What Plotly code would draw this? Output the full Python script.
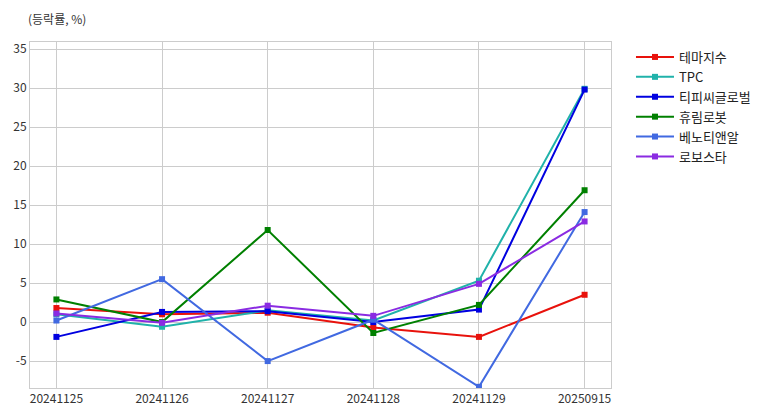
import plotly.graph_objects as go

dates = ["20241125", "20241126", "20241127", "20241128", "20241129", "20250915"]
names = ["테마지수", "TPC", "티피씨글로벌", "휴림로봇", "베노티앤알", "로보스타"]
colors = ["#e8120c", "#20b2aa", "#0000e0", "#008000", "#4169e1", "#8a2be2"]

theme = [1.8, 1.0, 1.2, -0.7, -1.9, 3.5]
tpc = [1.0, -0.6, 1.5, 0.2, 5.3, 29.9]
tpc_global = [-1.9, 1.3, 1.4, 0.0, 1.6, 29.8]
hyurim = [2.9, 0.0, 11.8, -1.4, 2.2, 16.9]
benot = [0.2, 5.5, -5.0, 0.3, -8.3, 14.1]
robostar = [1.1, -0.1, 2.1, 0.8, 4.9, 12.9]

y_tick_values = [-5, 0, 5, 10, 15, 20, 25, 30, 35]
y_tick_labels = ["-5", "0", "5", "10", "15", "20", "25", "30", "35"]

series = [theme, tpc, tpc_global, hyurim, benot, robostar]

fig = go.Figure()
for n, c, v in zip(names, colors, series):
    fig.add_trace(go.Scatter(
        x=dates, y=v, name=n, mode="lines+markers",
        line=dict(color=c, width=2),
        marker=dict(symbol="square", size=6, color=c),
    ))

font_family = "Noto Sans CJK KR"
fig.update_layout(
    width=767, height=408,
    margin=dict(l=22, r=164, t=34, b=28, autoexpand=False),
    paper_bgcolor="white", plot_bgcolor="white",
    font=dict(family=font_family, size=12, color="#333333"),
    showlegend=True,
    legend=dict(x=1.0344, y=1.0, xanchor="left", yanchor="top",
                font=dict(size=13, color="#222222"),
                tracegroupgap=0, itemwidth=38, bgcolor="rgba(0,0,0,0)"),
    annotations=[dict(text="(등락률, %)", x=0, y=1, xref="paper", yref="paper",
                      xanchor="left", yanchor="bottom", xshift=-4, yshift=13,
                      showarrow=False, font=dict(size=12, color="#333333"))],
)
fig.update_xaxes(type="category", range=[-0.25, 5.25], showgrid=True, automargin=False,
                 gridcolor="#cccccc", gridwidth=1, showline=True, linecolor="#cccccc",
                 mirror=True, ticks="", tickfont=dict(size=12, color="#333333"),
                 zeroline=False)
fig.update_yaxes(range=[-8.45, 35.9], tickmode="array", tickvals=y_tick_values,
                 ticktext=y_tick_labels, showgrid=True, gridcolor="#cccccc",
                 gridwidth=1, showline=True, linecolor="#cccccc", mirror=True, automargin=False,
                 zeroline=False, ticks="", tickfont=dict(size=12, color="#333333"))

fig.write_html("out.html")
